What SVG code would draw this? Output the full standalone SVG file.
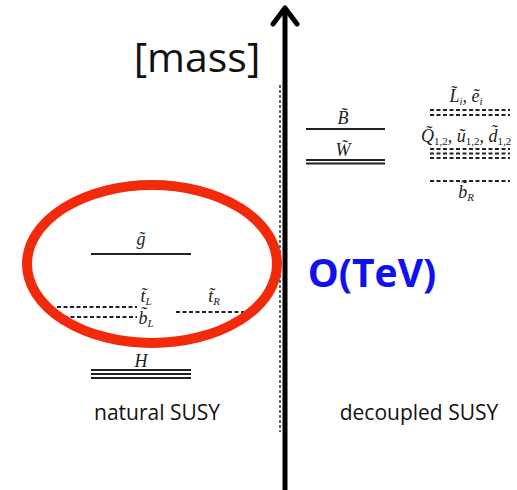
<svg xmlns="http://www.w3.org/2000/svg" width="517" height="490" viewBox="0 0 517 490">
<style>
.m{font-family:"Liberation Serif","DejaVu Serif",serif;font-style:italic;font-size:18px;fill:#222;text-anchor:middle}
.s{font-size:11px}
.lv{stroke:#222;stroke-width:1.8;fill:none}
.dl{stroke:#222;stroke-width:1.8;fill:none;stroke-dasharray:4 2.5}
.cap{font-family:"Open Sans","Lato",sans-serif;font-size:21px;fill:#111;text-anchor:middle}
</style>
<rect width="517" height="490" fill="#fff"/>
<g id="axis">
<line x1="280" y1="85" x2="280" y2="432" stroke="#333" stroke-width="1.5" stroke-dasharray="3 2"/>
<line x1="285" y1="490" x2="285" y2="9" stroke="#000" stroke-width="5"/>
<polyline points="273,24 285,8 297,24" fill="none" stroke="#000" stroke-width="5" stroke-linecap="round" stroke-linejoin="round"/>
<text x="197" y="72" font-family="Open Sans, Lato, sans-serif" font-size="41" text-anchor="middle" fill="#111">[mass]</text>
</g>
<g id="natural">
<text class="m" x="141" y="245">g̃</text>
<line class="lv" x1="91" y1="254" x2="191" y2="254"/>
<text class="m" x="146" y="302">t̃<tspan class="s" dy="3">L</tspan></text>
<line class="dl" x1="57" y1="307" x2="137" y2="307"/>
<text class="m" x="146" y="324">b̃<tspan class="s" dy="3">L</tspan></text>
<line class="dl" x1="64" y1="317" x2="137" y2="317"/>
<text class="m" x="214" y="302">t̃<tspan class="s" dy="3">R</tspan></text>
<line class="dl" x1="176" y1="312" x2="250" y2="312"/>
<text class="m" x="141" y="367">H</text>
<line class="lv" x1="91" y1="370" x2="191" y2="370" stroke-width="1.5"/>
<line class="lv" x1="91" y1="374" x2="191" y2="374" stroke-width="1.5"/>
<line class="lv" x1="91" y1="378" x2="191" y2="378" stroke-width="1.5"/>
<text class="cap" x="157" y="420">natural SUSY</text>
</g>
<g id="decoupled">
<text class="m" x="343" y="124">B̃</text>
<line class="lv" x1="306" y1="129" x2="385" y2="129"/>
<text class="m" x="343" y="156">W̃</text>
<line class="lv" x1="306" y1="160" x2="385" y2="160" stroke-width="1.5"/>
<line class="lv" x1="306" y1="163.5" x2="385" y2="163.5" stroke-width="1.5"/>
<text class="m" x="466" y="102" font-size="16">L̃<tspan class="s" dy="3">i</tspan><tspan dy="-3">, ẽ</tspan><tspan class="s" dy="3">i</tspan></text>
<line class="dl" x1="430" y1="110" x2="510" y2="110"/>
<line class="dl" x1="430" y1="115" x2="510" y2="115"/>
<text class="m" x="466" y="142" font-size="14">Q̃<tspan class="s" dy="3" font-style="normal" font-size="10">1,2</tspan><tspan dy="-3">, ũ</tspan><tspan class="s" dy="3" font-style="normal" font-size="10">1,2</tspan><tspan dy="-3">, d̃</tspan><tspan class="s" dy="3" font-style="normal" font-size="10">1,2</tspan></text>
<line class="dl" x1="430" y1="149" x2="510" y2="149"/>
<line class="dl" x1="430" y1="153.5" x2="510" y2="153.5"/>
<line class="dl" x1="430" y1="158" x2="510" y2="158"/>
<line class="dl" x1="430" y1="181" x2="510" y2="181"/>
<text class="m" x="466" y="198" font-size="16">b̃<tspan class="s" dy="3">R</tspan></text>
<text class="cap" x="419" y="420">decoupled SUSY</text>
</g>
<g id="highlight">
<ellipse cx="152" cy="264" rx="125" ry="79" fill="none" stroke="#f22a0c" stroke-width="10"/>
<text x="372" y="287" font-family="Open Sans, Lato, sans-serif" font-weight="bold" font-size="39" fill="#1010f0" text-anchor="middle">O(TeV)</text>
</g>
</svg>
